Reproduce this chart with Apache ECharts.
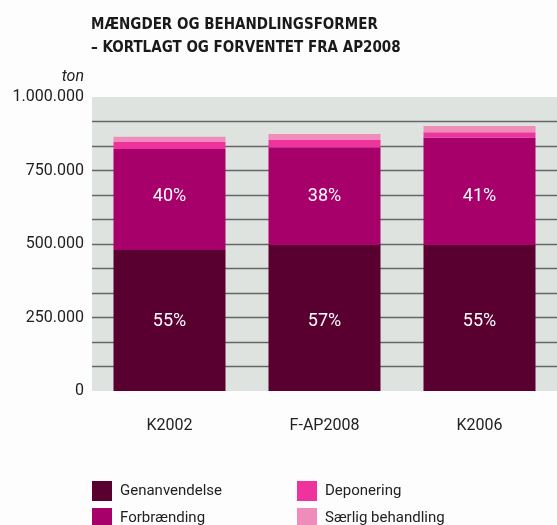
<!DOCTYPE html>
<html>
<head>
<meta charset="utf-8">
<script src="https://cdn.jsdelivr.net/npm/echarts@6/dist/echarts.min.js"></script>
<style>
html,body{margin:0;padding:0;background:#fdfdfd;}
#main{width:557px;height:525px;}
</style>
</head>
<body>
<div id="main"></div>
<script>
var categories = ['K2002', 'F-AP2008', 'K2006'];
var genanvendelse = [480000, 497000, 497000];
var forbraending = [343000, 332000, 365000];
var deponering = [24000, 25000, 18000];
var saerlig = [18000, 20000, 21000];
var genPct = ['55%', '57%', '55%'];
var forbPct = ['40%', '38%', '41%'];

var myChart = echarts.init(document.getElementById('main'));
var font = 'Roboto';

function fmt(v){
	return String(v).replace(/\B(?=(\d{3})+(?!\d))/g, '.');
}

// en legende pr. felt, så de står i to faste kolonner
function legendItem(name, left, top){
	return {
		left: left,
		top: top,
		padding: 0,
		itemWidth: 20,
		itemHeight: 20,
		icon: 'rect',
		textStyle: {fontFamily: font, fontSize: 15, color: '#222', padding: [0, 0, 0, 3]},
		data: [name]
	};
}

// procenttekster ligger i samme højde i alle søjler
function pctSeries(level, texts){
	return {
		type: 'scatter',
		symbolSize: 0,
		silent: true,
		itemStyle: {opacity: 1},
		label: {show: true, position: 'inside', color: '#fff', opacity: 1, fontFamily: font, fontSize: 18,
			formatter: function(p){ return texts[p.dataIndex]; }},
		data: categories.map(function(){ return level; }),
		z: 5
	};
}

var option = {
	backgroundColor: '#fdfdfd',
	animation: false,
	title: {
		text: 'MÆNGDER OG BEHANDLINGSFORMER\n– KORTLAGT OG FORVENTET FRA AP2008',
		left: 86,
		top: 9,
		textStyle: {
			fontFamily: 'DejaVu Sans Condensed',
			fontWeight: 'bold',
			fontSize: 15,
			lineHeight: 23,
			color: '#1a1a1a'
		}
	},
	legend: [
		legendItem('Genanvendelse', 92, 481),
		legendItem('Forbrænding', 92, 508),
		legendItem('Deponering', 297, 481),
		legendItem('Særlig behandling', 297, 508)
	],
	grid: {
		show: true,
		left: 92,
		right: 0,
		top: 97,
		bottom: 134,
		backgroundColor: '#dfe3e0',
		borderWidth: 0
	},
	xAxis: {
		type: 'category',
		data: categories,
		axisLine: {show: false},
		axisTick: {show: false},
		axisLabel: {fontFamily: font, fontSize: 16, color: '#222', margin: 27}
	},
	yAxis: {
		type: 'value',
		min: 0,
		max: 1000000,
		interval: 250000,
		name: 'ton',
		nameLocation: 'end',
		nameGap: 12,
		nameTextStyle: {fontFamily: font, fontSize: 16, fontStyle: 'italic', color: '#222', align: 'right', padding: [0, 8, 0, 0]},
		axisLine: {show: false},
		axisTick: {show: false},
		axisLabel: {fontFamily: font, fontSize: 16, color: '#222', margin: 8, formatter: fmt},
		splitLine: {show: true, lineStyle: {color: ['transparent', '#666', '#666', '#666', 'transparent'], width: 1.3}},
		minorTick: {show: false, splitNumber: 3},
		minorSplitLine: {show: true, lineStyle: {color: '#666', width: 1.3}}
	},
	series: [
		{
			name: 'Genanvendelse', type: 'bar', stack: 'total', barWidth: 112,
			itemStyle: {color: '#5a0030'},
			data: genanvendelse
		},
		{
			name: 'Forbrænding', type: 'bar', stack: 'total', barWidth: 112,
			itemStyle: {color: '#a8006b'},
			data: forbraending
		},
		{
			name: 'Deponering', type: 'bar', stack: 'total', barWidth: 112,
			itemStyle: {color: '#ee349c'},
			data: deponering
		},
		{
			name: 'Særlig behandling', type: 'bar', stack: 'total', barWidth: 112,
			itemStyle: {color: '#f08cba'},
			data: saerlig
		},
		pctSeries(235000, genPct),
		pctSeries(663000, forbPct)
	]
};

myChart.setOption(option);
</script>
</body>
</html>
